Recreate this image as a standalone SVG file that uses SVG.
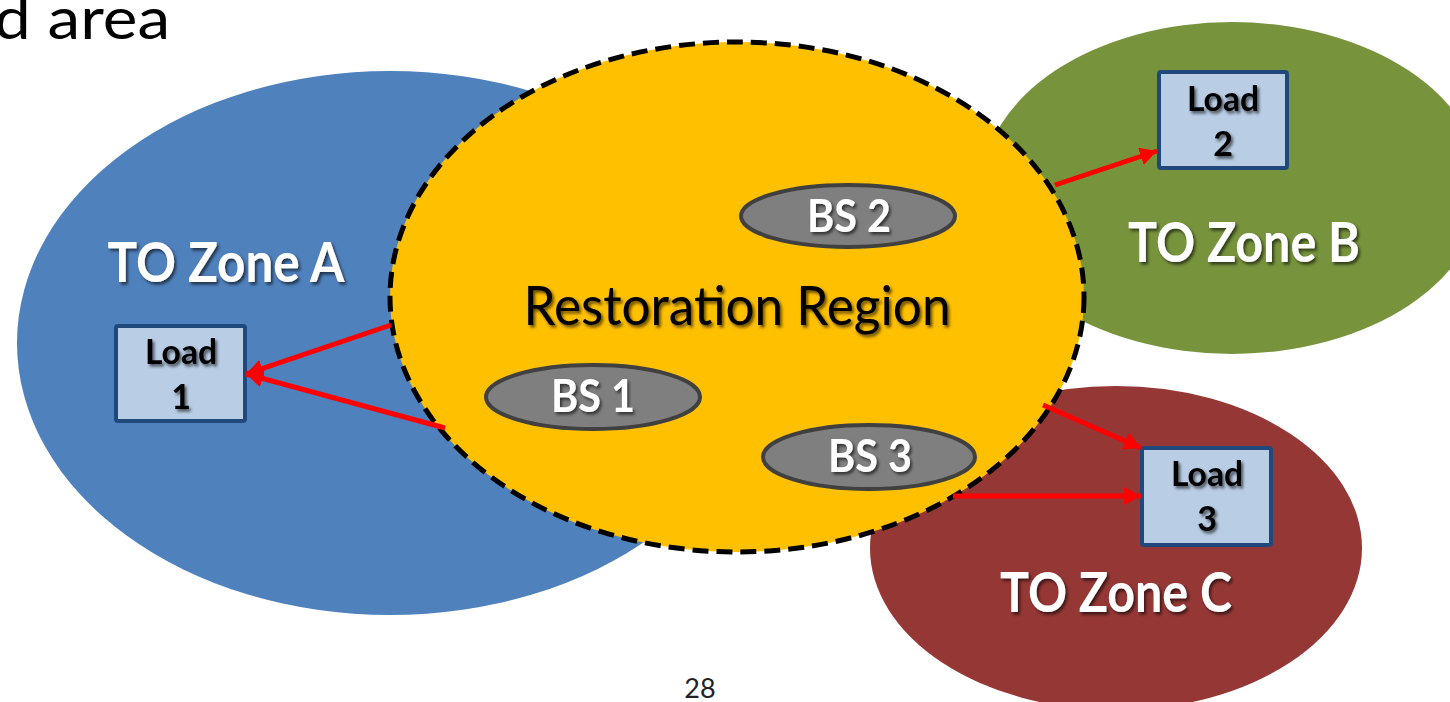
<svg xmlns="http://www.w3.org/2000/svg" width="1450" height="702" viewBox="0 0 1450 702">
  <defs>
    <filter id="sh" x="-10%" y="-20%" width="130%" height="150%">
      <feDropShadow dx="2" dy="2.5" stdDeviation="1.5" flood-color="#000" flood-opacity="0.6"/>
    </filter>
    <marker id="ah" markerUnits="userSpaceOnUse" markerWidth="20" markerHeight="20" refX="17" refY="9" orient="auto">
      <path d="M0,0 L17,9 L0,18 Z" fill="#ff0000"/>
    </marker>
  </defs>
  <style>
    .zt { font-family: Lato, "Open Sans", sans-serif; font-weight: bold; font-size: 55px; fill: #fff; text-anchor: middle; }
    .bs { fill: #7f7f7f; stroke: #404040; stroke-width: 4; }
    .bst { font-family: Lato, "Open Sans", sans-serif; font-weight: bold; font-size: 45px; fill: #fff; text-anchor: middle; }
    .ld { fill: #b9cde5; stroke: #1f497d; stroke-width: 4; }
    .ldt { font-family: Lato, "Open Sans", sans-serif; font-weight: bold; font-size: 34px; fill: #000; text-anchor: middle; }
    .arr { stroke: #ff0000; stroke-width: 5; fill: none; marker-end: url(#ah); }
  </style>

  <text x="-6" y="39" font-family="Lato, 'Open Sans', sans-serif" font-size="58" fill="#000" textLength="176" lengthAdjust="spacingAndGlyphs">d area</text>

  <g id="zoneA">
    <ellipse cx="390" cy="343" rx="373" ry="272" fill="#4f81bd"/>
    <text class="zt" x="226" y="282" filter="url(#sh)" textLength="237" lengthAdjust="spacingAndGlyphs">TO Zone A</text>
  </g>
  <g id="zoneB">
    <ellipse cx="1232" cy="188" rx="250" ry="166" fill="#77933c"/>
    <text class="zt" x="1244" y="262" filter="url(#sh)" textLength="232" lengthAdjust="spacingAndGlyphs">TO Zone B</text>
  </g>
  <g id="zoneC">
    <ellipse cx="1116" cy="548" rx="246" ry="162" fill="#953735"/>
    <text class="zt" x="1116" y="612" filter="url(#sh)" textLength="232" lengthAdjust="spacingAndGlyphs">TO Zone C</text>
  </g>

  <g id="restoration">
    <ellipse cx="737" cy="297" rx="347" ry="255" fill="#ffc000" stroke="#000" stroke-width="5" stroke-dasharray="16 8"/>
    <text x="737" y="325" font-family="Lato, 'Open Sans', sans-serif" font-size="55" fill="#000" text-anchor="middle" filter="url(#sh)" textLength="427" lengthAdjust="spacingAndGlyphs">Restoration Region</text>
  </g>

  <g id="bs1">
    <ellipse class="bs" cx="593" cy="397" rx="107" ry="32"/>
    <text class="bst" x="593" y="412" filter="url(#sh)" textLength="84" lengthAdjust="spacingAndGlyphs">BS 1</text>
  </g>
  <g id="bs2">
    <ellipse class="bs" cx="848" cy="216" rx="107" ry="31"/>
    <text class="bst" x="849" y="232" filter="url(#sh)" textLength="84" lengthAdjust="spacingAndGlyphs">BS 2</text>
  </g>
  <g id="bs3">
    <ellipse class="bs" cx="869" cy="457" rx="106" ry="32"/>
    <text class="bst" x="870" y="472" filter="url(#sh)" textLength="84" lengthAdjust="spacingAndGlyphs">BS 3</text>
  </g>

  <g id="load1">
    <rect class="ld" x="116" y="326" width="129" height="95" rx="2"/>
    <text class="ldt" x="181" y="364" filter="url(#sh)" textLength="72" lengthAdjust="spacingAndGlyphs">Load</text>
    <text class="ldt" x="181" y="409" filter="url(#sh)">1</text>
  </g>
  <g id="load2">
    <rect class="ld" x="1159" y="72" width="128" height="96" rx="2"/>
    <text class="ldt" x="1223" y="111" filter="url(#sh)" textLength="72" lengthAdjust="spacingAndGlyphs">Load</text>
    <text class="ldt" x="1223" y="156" filter="url(#sh)">2</text>
  </g>
  <g id="load3">
    <rect class="ld" x="1142" y="448" width="129" height="97" rx="2"/>
    <text class="ldt" x="1207" y="486" filter="url(#sh)" textLength="72" lengthAdjust="spacingAndGlyphs">Load</text>
    <text class="ldt" x="1207" y="531" filter="url(#sh)">3</text>
  </g>

  <g id="connectors">
    <line class="arr" x1="391" y1="325" x2="246" y2="374"/>
    <line class="arr" x1="445" y1="428" x2="246" y2="374"/>
    <line class="arr" x1="1055" y1="185" x2="1157" y2="151"/>
    <line class="arr" x1="1043" y1="405" x2="1141" y2="448"/>
    <line class="arr" x1="953" y1="496" x2="1141" y2="496"/>
  </g>

  <text x="700" y="698" font-family="Lato, 'Open Sans', sans-serif" font-size="27" fill="#222" text-anchor="middle">28</text>
</svg>
